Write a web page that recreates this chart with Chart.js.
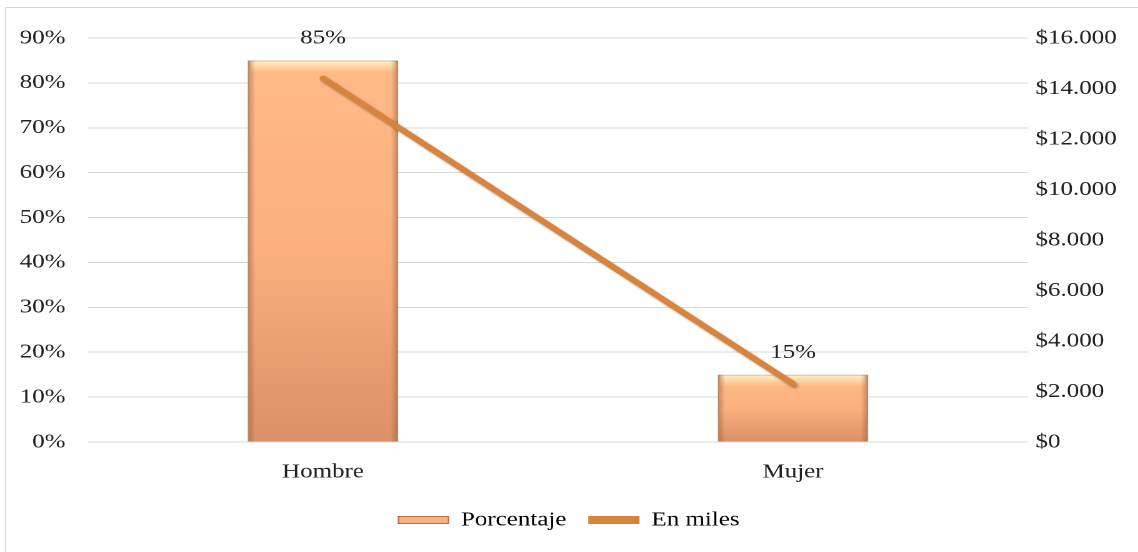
<!DOCTYPE html>
<html>
<head>
<meta charset="utf-8">
<script src="https://cdn.jsdelivr.net/npm/chart.js@4.4.0/dist/chart.umd.min.js"></script>
<style>
  body { margin: 0; background: #fff; overflow: hidden; }
  /* the reference is a horizontally stretched picture, so draw narrower and stretch */
  #wrap { position: absolute; left: 0; top: 0; width: 910.4px; height: 552px;
          transform: scaleX(1.25); transform-origin: 0 0; }
</style>
</head>
<body>
<div id="wrap"><canvas id="chart"></canvas></div>
<script>
const categories = ['Hombre', 'Mujer'];
const porcentaje = [85, 15];
const enMiles = [14400, 2300];
const barLabels = ['85%', '15%'];

const FONT = "'Liberation Serif', 'Times New Roman', serif";
const ctx = document.getElementById('chart').getContext('2d');

// gradient per bar, from its own top to the axis
function barFill(context) {
  const chart = context.chart;
  const ys = chart.scales.y;
  if (!chart.chartArea || !ys || context.parsed === undefined) return '#FDB07E';
  const top = ys.getPixelForValue(context.parsed.y);
  const bottom = ys.getPixelForValue(0);
  const g = chart.ctx.createLinearGradient(0, top, 0, bottom);
  g.addColorStop(0, '#FFBA88');
  g.addColorStop(0.5, '#FCB07F');
  g.addColorStop(1, '#DB9066');
  return g;
}

const frame = {
  id: 'frame',
  beforeDraw(chart) {
    const c = chart.ctx;
    c.save();
    c.strokeStyle = '#d9d9d9';
    c.lineWidth = 1;
    c.strokeRect(4.4, 7.5, 1000, 600);
    c.restore();
  }
};

// bevel look on the bars and shadow on the line
const effects = {
  id: 'effects',
  beforeDatasetDraw(chart, args) {
    if (args.index === 1) {
      chart.ctx.save();
      chart.ctx.shadowColor = 'rgba(0,0,0,0.35)';
      chart.ctx.shadowBlur = 4;
      chart.ctx.shadowOffsetX = 2.5;
      chart.ctx.shadowOffsetY = 3;
    }
  },
  afterDatasetDraw(chart, args) {
    if (args.index === 0) {
      const c = chart.ctx;
      c.save();
      args.meta.data.forEach(bar => {
        const l = bar.x - bar.width / 2, r = bar.x + bar.width / 2;
        const t = bar.y, b = bar.base;
        let g = c.createLinearGradient(0, t, 0, t + 12);
        g.addColorStop(0, 'rgba(255,246,200,0.95)');
        g.addColorStop(1, 'rgba(255,246,200,0)');
        c.fillStyle = g;
        c.fillRect(l + 2, t + 1, r - l - 4, 12);
        g = c.createLinearGradient(l, 0, l + 6, 0);
        g.addColorStop(0, 'rgba(150,90,55,0.55)');
        g.addColorStop(1, 'rgba(150,90,55,0)');
        c.fillStyle = g;
        c.fillRect(l, t, 6, b - t);
        g = c.createLinearGradient(r, 0, r - 6, 0);
        g.addColorStop(0, 'rgba(150,90,55,0.55)');
        g.addColorStop(1, 'rgba(150,90,55,0)');
        c.fillStyle = g;
        c.fillRect(r - 6, t, 6, b - t);
      });
      c.restore();
    }
    if (args.index === 1) chart.ctx.restore();
  }
};

const valueLabels = {
  id: 'valueLabels',
  afterDatasetsDraw(chart) {
    const meta = chart.getDatasetMeta(0);
    const c = chart.ctx;
    c.save();
    c.font = '20px ' + FONT;
    c.fillStyle = '#222';
    c.textAlign = 'center';
    c.textBaseline = 'middle';
    meta.data.forEach((bar, i) => {
      c.fillText(barLabels[i], bar.x, bar.y - 22);
    });
    c.restore();
  }
};

new Chart(ctx, {
  data: {
    labels: categories,
    datasets: [
      {
        type: 'bar',
        label: 'Porcentaje',
        data: porcentaje,
        yAxisID: 'y',
        backgroundColor: barFill,
        borderColor: 'rgba(190,130,95,0.6)',
        borderWidth: 1,
        barPercentage: 0.64,
        categoryPercentage: 0.5,
        order: 2
      },
      {
        type: 'line',
        label: 'En miles',
        data: enMiles,
        yAxisID: 'y1',
        borderColor: '#D8843C',
        backgroundColor: '#D8843C',
        borderWidth: 5.5,
        borderCapStyle: 'round',
        pointRadius: 0,
        order: 1
      }
    ]
  },
  options: {
    responsive: true,
    maintainAspectRatio: false,
    animation: false,
    devicePixelRatio: 2,
    layout: { padding: { left: 8, right: 8, top: 38, bottom: 12 } },
    scales: {
      x: {
        grid: { display: false },
        border: { display: false },
        ticks: { color: '#222', font: { family: FONT, size: 20 }, padding: 10 },
        afterFit(scale) { scale.height = 50; }
      },
      y: {
        position: 'left',
        min: 0,
        max: 90,
        ticks: {
          stepSize: 10,
          color: '#222',
          padding: 18,
          font: { family: FONT, size: 20 },
          callback: v => v + '%'
        },
        grid: { color: '#d9d9d9', drawTicks: false, lineWidth: 1 },
        border: { display: false },
        afterFit(scale) { scale.width = 62.4; }
      },
      y1: {
        position: 'right',
        min: 0,
        max: 16000,
        ticks: {
          stepSize: 2000,
          color: '#222',
          padding: 6,
          font: { family: FONT, size: 20 },
          callback: v => '$' + v.toLocaleString('de-DE')
        },
        grid: { display: false, drawTicks: false },
        border: { display: false },
        afterFit(scale) { scale.width = 80; }
      }
    },
    plugins: {
      tooltip: { enabled: false },
      legend: {
        position: 'bottom',
        labels: {
          color: '#222',
          font: { family: FONT, size: 20 },
          boxWidth: 40,
          boxHeight: 7,
          padding: 18,
          generateLabels(chart) {
            return [
              { text: 'Porcentaje', fillStyle: '#F7B182', strokeStyle: '#B46E46', lineWidth: 1, datasetIndex: 0 },
              { text: 'En miles', fillStyle: '#D8843C', strokeStyle: '#D8843C', lineWidth: 1, datasetIndex: 1 }
            ];
          }
        }
      }
    }
  },
  plugins: [frame, effects, valueLabels]
});
</script>
</body>
</html>
